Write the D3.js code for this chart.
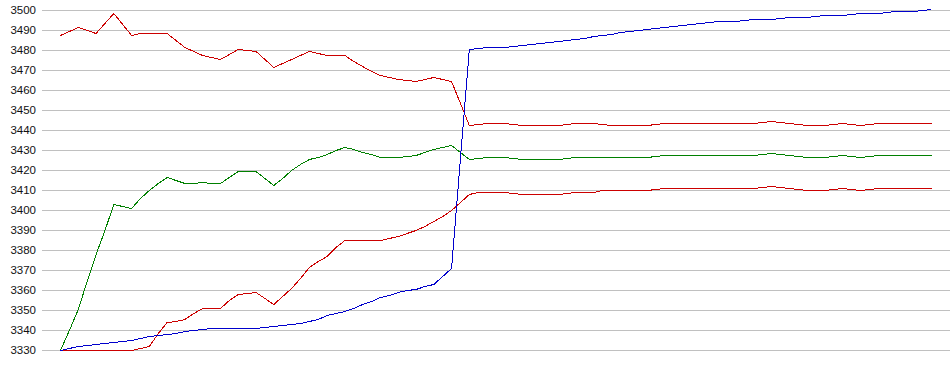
<!DOCTYPE html>
<html>
<head>
<meta charset="utf-8">
<script src="https://cdn.jsdelivr.net/npm/d3@7"></script>
<style>
  html, body { margin: 0; padding: 0; background: #ffffff; }
  svg { display: block; }
</style>
</head>
<body>
<div id="chart"></div>
<script>
// ---- data ----
const tickValues = [3330, 3340, 3350, 3360, 3370, 3380, 3390, 3400, 3410, 3420,
                    3430, 3440, 3450, 3460, 3470, 3480, 3490, 3500];

const redHigh = [3487.5,3489.5,3491.5,3490,3488.5,3493.5,3498.5,3493,3487.5,3488.5,
  3488.5,3488.5,3488.5,3485,3481.5,3479.5,3477.5,3476.5,3475.5,3478,
  3480.5,3480,3479.5,3475.5,3471.5,3473.5,3475.5,3477.5,3479.5,3478.5,
  3477.5,3477.5,3477.5,3474.5,3472,3469.5,3467.5,3466.5,3465.5,3465,
  3464.5,3465.5,3466.5,3465.5,3464.5,3453.5,3442.5,3443,3443.5,3443.5,
  3443.5,3443,3442.5,3442.5,3442.5,3442.5,3442.5,3443,3443.5,3443.5,
  3443.5,3443,3442.5,3442.5,3442.5,3442.5,3442.5,3443,3443.5,3443.5,
  3443.5,3443.5,3443.5,3443.5,3443.5,3443.5,3443.5,3443.5,3443.5,3444,
  3444.5,3444,3443.5,3443,3442.5,3442.5,3442.5,3443,3443.5,3443,
  3442.5,3443,3443.5,3443.5,3443.5,3443.5,3443.5,3443.5,3443.5];

const greenMid = [3330,3340,3350.5,3364.5,3378,3390,3403,3402,3401,3406,
  3410,3413.5,3416.5,3415,3413.5,3413.5,3414,3413.5,3413.5,3416.5,
  3419.5,3419.5,3419.5,3416,3412.5,3416,3420,3423,3425.5,3426.5,
  3428,3430,3431.5,3430.5,3429,3428,3426.5,3426.5,3426.5,3427,
  3427.5,3429,3430.5,3431.5,3432.5,3429,3425.5,3426,3426.5,3426.5,
  3426.5,3426,3425.5,3425.5,3425.5,3425.5,3425.5,3426,3426.5,3426.5,
  3426.5,3426.5,3426.5,3426.5,3426.5,3426.5,3426.5,3427,3427.5,3427.5,
  3427.5,3427.5,3427.5,3427.5,3427.5,3427.5,3427.5,3427.5,3427.5,3428,
  3428.5,3428,3427.5,3427,3426.5,3426.5,3426.5,3427,3427.5,3427,
  3426.5,3427,3427.5,3427.5,3427.5,3427.5,3427.5,3427.5,3427.5];

const redLow = [3330,3330,3330,3330,3330,3330,3330,3330,3330,3331,
  3332,3338.5,3344,3344.5,3345.5,3348.5,3351,3351,3351,3355,
  3358,3358.5,3359,3356,3353,3357,3361,3366,3371.5,3374.5,
  3377,3381.5,3385,3385,3385,3385,3385,3386,3387,3388.5,
  3390,3392,3394.5,3397,3400,3404,3408,3409,3409,3409,
  3409,3408.5,3408,3408,3408,3408,3408,3408.5,3409,3409,
  3409,3410,3410,3410,3410,3410,3410,3410.5,3411,3411,
  3411,3411,3411,3411,3411,3411,3411,3411,3411,3411.5,
  3412,3411.5,3411,3410.5,3410,3410,3410,3410.5,3411,3410.5,
  3410,3410.5,3411,3411,3411,3411,3411,3411,3411];

const blueLine = [3330,3331,3332,3332.5,3333,3333.5,3334,3334.5,3335,3336,
  3337,3337.5,3338,3338.5,3339.5,3340,3340.5,3341,3341,3341,
  3341,3341,3341,3341.5,3342,3342.5,3343,3343.5,3344.5,3345.5,
  3347.5,3348.5,3349.5,3351,3353,3354.5,3356.5,3357.5,3359,3360,
  3360.5,3362,3363,3367,3371,3426,3480.5,3481,3481.5,3481.5,
  3481.5,3482,3482.5,3483,3483.5,3484,3484.5,3485,3485.5,3486,
  3487,3487.5,3488,3489,3489.5,3490,3490.5,3491,3491.5,3492,
  3492.5,3493,3493.5,3494,3494.5,3494.5,3494.5,3495,3495.5,3495.5,
  3495.5,3496,3496.5,3496.5,3496.5,3497,3497.5,3497.5,3497.5,3498,
  3498.5,3498.5,3498.5,3499,3499.5,3499.5,3499.5,3500,3500.5];

const seriesColors = ["#cc0000", "#008000", "#cc0000", "#0000cc"];

// ---- drawing ----
const W = 950, H = 375;
const svg = d3.select("#chart").append("svg")
  .attr("width", W).attr("height", H);

const plotLeft = 42;
const x = d3.scaleLinear().domain([0, redHigh.length - 1]).range([60, 931]);
const y = d3.scaleLinear().domain([3330, 3500]).range([350, 10]);

// gridlines + labels
const axis = d3.axisLeft(y)
  .tickValues(tickValues)
  .tickFormat(d3.format("d"))
  .tickSize(-(W - plotLeft))
  .tickPadding(6);

const gAxis = svg.append("g")
  .attr("transform", `translate(${plotLeft},0)`)
  .call(axis);
gAxis.select(".domain").remove();
gAxis.attr("font-family", "'Liberation Sans', Arial, sans-serif").attr("font-size", 11.5);
gAxis.selectAll(".tick line").attr("stroke", "#c0c0c0").attr("shape-rendering", "crispEdges");
gAxis.selectAll(".tick text").attr("fill", "#111111");

// lines
const line = d3.line()
  .x((d, i) => x(i))
  .y(d => y(d));

const gLines = svg.append("g").attr("transform", "translate(0.5,0.5)");
[redHigh, greenMid, redLow, blueLine].forEach((data, k) => {
  gLines.append("path")
    .datum(data)
    .attr("fill", "none")
    .attr("stroke", seriesColors[k])
    .attr("stroke-width", 1)
    .attr("shape-rendering", "crispEdges")
    .attr("d", line);
});
</script>
</body>
</html>
